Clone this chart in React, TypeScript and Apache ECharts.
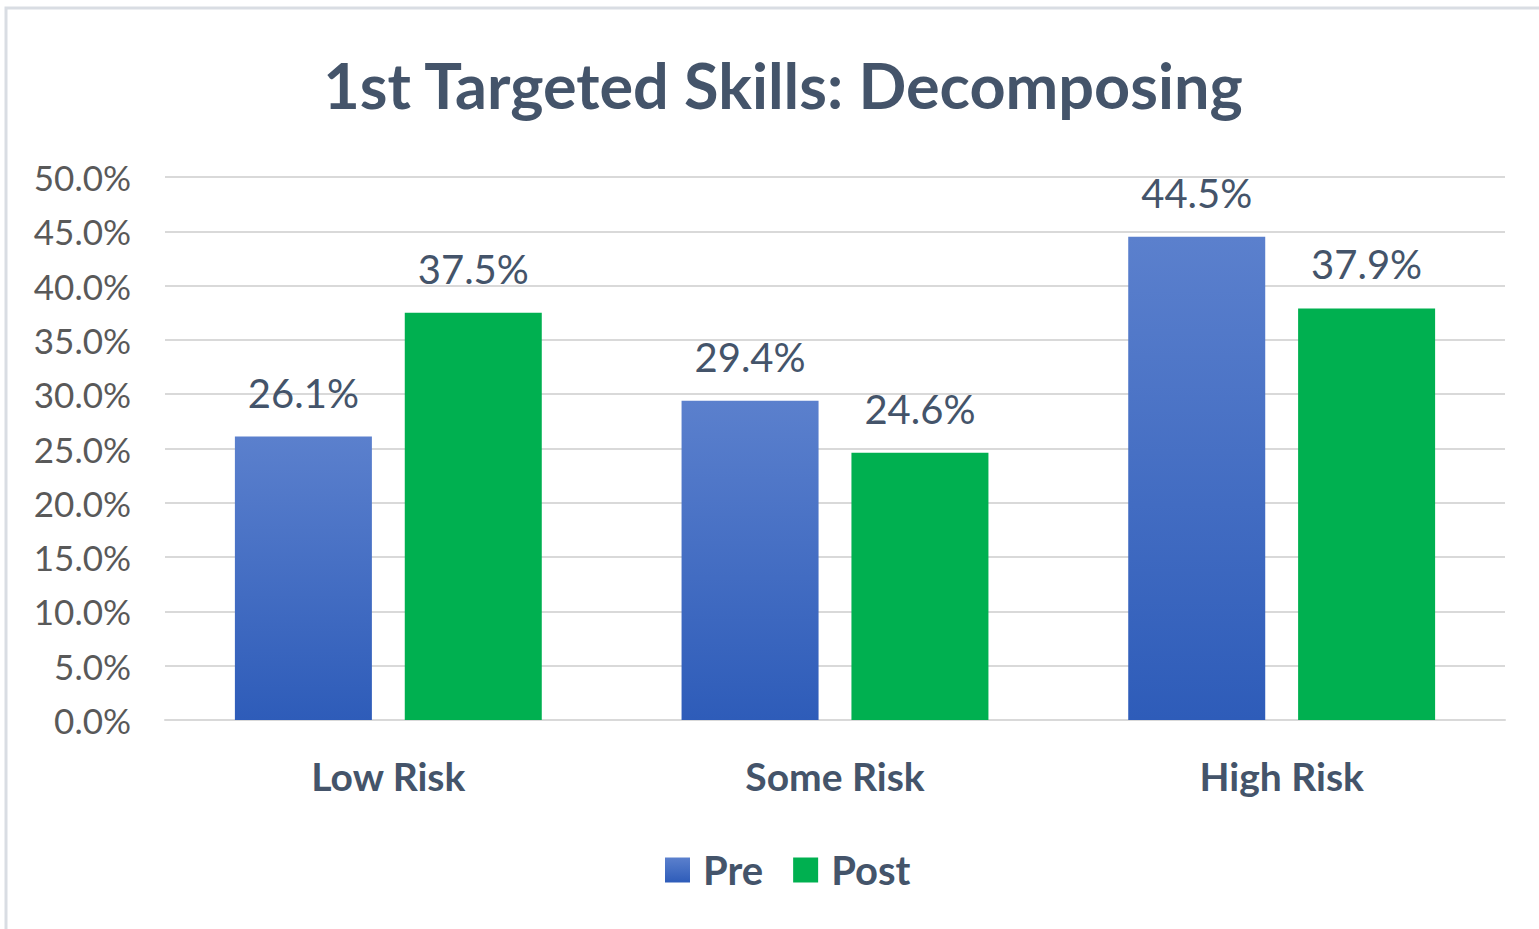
import React, { useEffect, useRef } from "react";
import * as echarts from "echarts";

const categories = ["Low Risk", "Some Risk", "High Risk"];
const preValues = [26.1, 29.4, 44.5];
const postValues = [37.5, 24.6, 37.9];
const seriesNames = ["Pre", "Post"];

export default function App() {
  const ref = useRef<HTMLDivElement>(null);
  useEffect(() => {
    if (!ref.current) return;
    const chart = echarts.init(ref.current, null, { renderer: "svg" });
    const labelStyle = {
      show: true,
      position: "top",
      distance: 24,
      fontFamily: "Lato",
      fontSize: 40,
      color: "#44546a",
      formatter: (p: any) => p.value.toFixed(1) + "%",
    };
    chart.setOption({
      animation: false,
      backgroundColor: "#ffffff",
      title: {
        text: "1st Targeted Skills: Decomposing",
        left: 778,
        textAlign: "center",
        top: 48,
        textStyle: { fontFamily: "Lato", fontWeight: "bold", fontSize: 63, color: "#44546a" },
      },
      graphic: [
        {
          type: "rect",
          shape: { x: 6, y: 8, width: 1560, height: 960 },
          style: { fill: "none", stroke: "#d9dde3", lineWidth: 3 },
          silent: true,
        },
      ],
      legend: {
        data: seriesNames,
        left: 660,
        top: 845,
        itemWidth: 25,
        itemHeight: 25,
        itemGap: 30,
        icon: "rect",
        textStyle: {
          fontFamily: "Lato",
          fontWeight: "bold",
          fontSize: 40,
          color: "#44546a",
          padding: [0, 0, 0, 8],
        },
      },
      grid: { left: 165, right: 34, top: 177, bottom: 209, containLabel: false },
      xAxis: {
        type: "category",
        data: categories,
        axisLine: { show: true, lineStyle: { color: "#d9d9d9", width: 2 } },
        axisTick: { show: false },
        axisLabel: {
          fontFamily: "Lato",
          fontWeight: "bold",
          fontSize: 39,
          color: "#44546a",
          margin: 36,
        },
      },
      yAxis: {
        type: "value",
        min: 0,
        max: 50,
        interval: 5,
        axisLine: { show: false },
        axisTick: { show: false },
        splitLine: { lineStyle: { color: "#d9d9d9", width: 2 } },
        axisLabel: {
          fontFamily: "Lato",
          fontSize: 35,
          color: "#595959",
          margin: 34,
          formatter: (v: number) => v.toFixed(1) + "%",
        },
      },
      series: [
        {
          name: seriesNames[0],
          type: "bar",
          data: preValues,
          barWidth: 137,
          barGap: "24%",
          itemStyle: {
            color: new echarts.graphic.LinearGradient(0, 0, 0, 1, [
              { offset: 0, color: "#5b80cd" },
              { offset: 1, color: "#2e5cb9" },
            ]),
          },
          label: labelStyle,
        },
        {
          name: seriesNames[1],
          type: "bar",
          data: postValues,
          barWidth: 137,
          itemStyle: { color: "#00b050" },
          label: labelStyle,
        },
      ],
    });
    return () => chart.dispose();
  }, []);
  return (
    <div
      ref={ref}
      style={{ position: "fixed", left: 0, top: 0, width: 1539, height: 929 }}
    />
  );
}
